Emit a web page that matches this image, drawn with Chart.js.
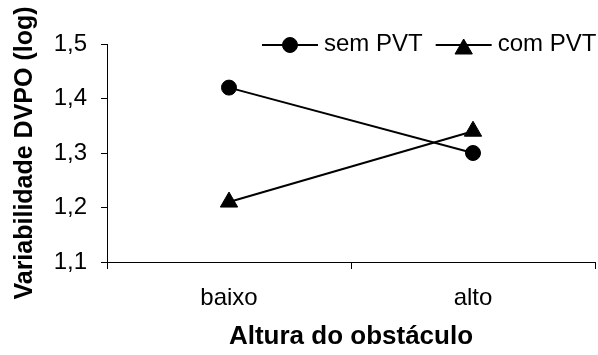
<!DOCTYPE html>
<html>
<head>
<meta charset="utf-8">
<script src="https://cdn.jsdelivr.net/npm/chart.js@4/dist/chart.umd.min.js"></script>
<style>
  html, body { margin: 0; padding: 0; background: #fff; }
  #wrap { width: 598px; height: 355px; }
</style>
</head>
<body>
<div id="wrap"><canvas id="c" width="598" height="355"></canvas></div>
<script>
// Obstacle height categories and mean DVPO variability (log) per condition
const categories = ['baixo', 'alto'];
const seriesNames = ['sem PVT', 'com PVT'];
const semPVT = [1.42, 1.30];
const comPVT = [1.21, 1.34];
const yTicks = [1.1, 1.2, 1.3, 1.4, 1.5];
const yTickLabels = ['1,1', '1,2', '1,3', '1,4', '1,5'];

const FONT = "'Liberation Sans', Arial, sans-serif";

// Draw one marker the same way the line's points are drawn
function drawMarker(ctx, style, x, y, r) {
  ctx.beginPath();
  if (style === 'triangle') {
    let rad = 0;
    ctx.moveTo(x + Math.sin(rad) * r, y - Math.cos(rad) * r);
    rad += 2 * Math.PI / 3;
    ctx.lineTo(x + Math.sin(rad) * r, y - Math.cos(rad) * r);
    rad += 2 * Math.PI / 3;
    ctx.lineTo(x + Math.sin(rad) * r, y - Math.cos(rad) * r);
    ctx.closePath();
  } else {
    ctx.arc(x, y, r, 0, Math.PI * 2);
  }
  ctx.fill();
  ctx.stroke();
}

// Legend placed in the upper right, overlapping the top of the plot area
const inlineLegend = {
  id: 'inlineLegend',
  afterDraw(chart) {
    const ctx = chart.ctx;
    ctx.save();
    ctx.font = '24px ' + FONT;
    ctx.textBaseline = 'middle';
    ctx.textAlign = 'left';
    let x = 262;
    const lineY = 45;
    chart.data.datasets.forEach((ds) => {
      const lineLen = 56;
      ctx.strokeStyle = ds.borderColor;
      ctx.lineWidth = ds.borderWidth;
      ctx.beginPath();
      ctx.moveTo(x, lineY);
      ctx.lineTo(x + lineLen, lineY);
      ctx.stroke();
      ctx.fillStyle = ds.pointBackgroundColor;
      ctx.strokeStyle = ds.pointBorderColor;
      ctx.lineWidth = ds.pointBorderWidth;
      const my = ds.pointStyle === 'triangle' ? lineY + 4 : lineY;
      drawMarker(ctx, ds.pointStyle, x + lineLen / 2, my, ds.pointRadius);
      const tx = x + lineLen + 6;
      ctx.fillStyle = '#000';
      ctx.fillText(ds.label, tx, lineY - 1);
      x = tx + ctx.measureText(ds.label).width + 13;
    });
    ctx.restore();
  }
};

const baseDataset = {
  borderColor: '#000',
  backgroundColor: '#000',
  borderWidth: 2,
  pointBackgroundColor: '#000',
  pointBorderColor: '#000',
  pointBorderWidth: 1,
  tension: 0,
  fill: false
};

new Chart(document.getElementById('c'), {
  type: 'line',
  data: {
    labels: categories,
    datasets: [
      Object.assign({}, baseDataset, {
        label: seriesNames[0], data: semPVT, pointStyle: 'circle', pointRadius: 7.5
      }),
      Object.assign({}, baseDataset, {
        label: seriesNames[1], data: comPVT, pointStyle: 'triangle', pointRadius: 10
      })
    ]
  },
  options: {
    responsive: false,
    animation: false,
    layout: { autoPadding: false, padding: { top: 44, right: 3, left: 0, bottom: 0 } },
    plugins: { legend: { display: false }, tooltip: { enabled: false } },
    scales: {
      x: {
        type: 'category',
        offset: true,
        grid: { offset: true, drawOnChartArea: false, drawTicks: true, tickLength: 7, color: '#000' },
        border: { display: true, color: '#000', width: 1 },
        ticks: { color: '#000', font: { family: FONT, size: 24 }, padding: 15, maxRotation: 0 },
        title: {
          display: true, text: 'Altura do obstáculo', color: '#000',
          font: { family: FONT, size: 26, weight: 'bold' }, padding: { top: 0, bottom: 3 }
        },
        afterFit(scale) {
          scale.height = 93;
          scale.paddingLeft = 0;
          scale.paddingRight = 0;
        }
      },
      y: {
        type: 'linear',
        min: yTicks[0],
        max: yTicks[yTicks.length - 1],
        afterBuildTicks(scale) { scale.ticks = yTicks.map(v => ({ value: v })); },
        grid: { drawOnChartArea: false, drawTicks: true, tickLength: 6, color: '#000' },
        border: { display: true, color: '#000', width: 1 },
        ticks: {
          color: '#000', font: { family: FONT, size: 24 }, padding: 14,
          callback: (v, i) => yTickLabels[i]
        },
        title: {
          display: true, text: 'Variabilidade DVPO (log)', color: '#000',
          font: { family: FONT, size: 25, weight: 'bold' }, padding: { top: 10, bottom: 0 }
        },
        afterFit(scale) {
          scale.width = 107;
          scale.paddingTop = 0;
          scale.paddingBottom = 0;
        }
      }
    }
  },
  plugins: [inlineLegend]
});
</script>
</body>
</html>
